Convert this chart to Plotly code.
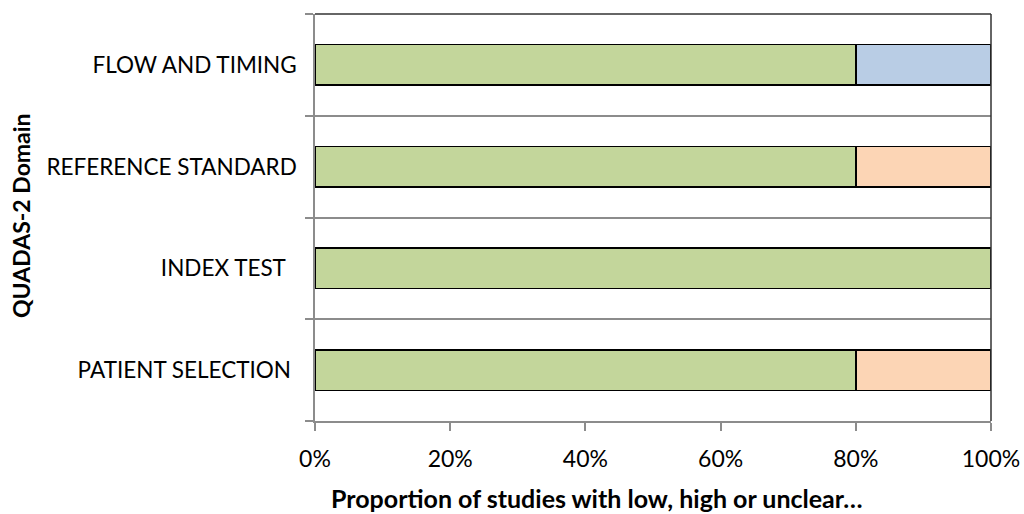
import plotly.graph_objects as go

# QUADAS-2 risk-of-bias summary (share of studies per judgement)
domains = ["PATIENT SELECTION", "INDEX TEST", "REFERENCE STANDARD", "FLOW AND TIMING"]
domain_labels = ["PATIENT SELECTION\u00a0", "INDEX TEST\u00a0\u00a0", "REFERENCE STANDARD", "FLOW AND TIMING"]
low = [0.8, 1.0, 0.8, 0.8]
high = [0.2, 0.0, 0.2, 0.0]
unclear = [0.0, 0.0, 0.0, 0.2]

x_ticks = [0, 0.2, 0.4, 0.6, 0.8, 1.0]
x_ticktext = ["0%", "20%", "40%", "60%", "80%", "100%"]

FONT = "Lato"
AXIS_GREY = "#8c8c8c"
positions = list(range(len(domains)))

fig = go.Figure()
for name, vals, color in [("Low", low, "#C3D69B"),
                          ("High", high, "#FCD5B5"),
                          ("Unclear", unclear, "#B9CDE5")]:
    fig.add_trace(go.Bar(
        name=name, x=vals, y=positions, orientation="h",
        width=0.4, marker=dict(color=color, line=dict(color="#000000", width=1.5)),
    ))

fig.update_layout(
    width=1024, height=514,
    barmode="stack",
    showlegend=False,
    plot_bgcolor="white", paper_bgcolor="white",
    margin=dict(l=315, r=33, t=14, b=93, autoexpand=False),
    font=dict(family=FONT, color="#000000"),
)

fig.update_xaxes(
    range=[0, 1], tickvals=x_ticks, ticktext=x_ticktext,
    showgrid=False, zeroline=False, automargin=False,
    showline=True, linecolor=AXIS_GREY, linewidth=1.5,
    ticks="outside", ticklen=8, tickcolor=AXIS_GREY, tickwidth=1.5,
    tickfont=dict(size=23, family=FONT), ticklabelstandoff=9,
)

fig.update_yaxes(
    range=[-0.5, 3.5], tickvals=positions, ticktext=domain_labels,
    showgrid=False, zeroline=False, automargin=False,
    showline=True, linecolor=AXIS_GREY, linewidth=1.5,
    ticks="", tickfont=dict(size=22.5, family=FONT), ticklabelstandoff=12,
    minor=dict(tickvals=[-0.5, 0.5, 1.5, 2.5, 3.5], ticks="outside", ticklen=8,
               tickcolor=AXIS_GREY, tickwidth=1.5,
               showgrid=True, gridcolor=AXIS_GREY, gridwidth=1.5),
)

# top and right edges of the plot frame
fig.add_shape(type="line", xref="paper", yref="paper", x0=0, x1=1, y0=1, y1=1,
              line=dict(color="#333333", width=1.5))
fig.add_shape(type="line", xref="paper", yref="paper", x0=1, x1=1, y0=0, y1=1,
              line=dict(color="#333333", width=1.5))

fig.add_annotation(text="<b>Proportion of studies with low, high or unclear…</b>",
                   xref="paper", yref="paper", x=0.417, y=-0.188,
                   showarrow=False, font=dict(size=25, family=FONT),
                   xanchor="center", yanchor="middle")
fig.add_annotation(text="<b>QUADAS-2 Domain</b>",
                   xref="paper", yref="paper", x=-0.435, y=0.506, textangle=-90,
                   showarrow=False, font=dict(size=23, family=FONT),
                   xanchor="center", yanchor="middle")

fig.write_html("out.html")
